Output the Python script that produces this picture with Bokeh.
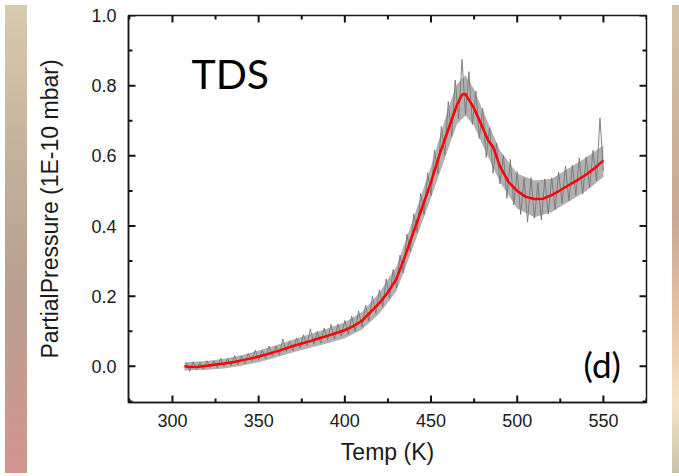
from bokeh.plotting import figure
from bokeh.models import (FixedTicker, NumeralTickFormatter, Label, Range1d, Div, Arrow,
                          ColumnDataSource)
from bokeh.layouts import row
from bokeh.embed import file_html
from bokeh.resources import INLINE

# ---- data ----
noisy_temp = list(range(308, 551, 2))
noisy_val = [
    0.010, -0.014, 0.013, -0.009, 0.011, -0.009, 0.016, -0.003, 0.016, -0.004,
    0.023, 0.000, 0.022, 0.002, 0.031, 0.005, 0.030, 0.007, 0.037, 0.015,
    0.046, 0.018, 0.045, 0.022, 0.058, 0.029, 0.058, 0.032, 0.078, 0.042,
    0.073, 0.044, 0.081, 0.052, 0.090, 0.059, 0.107, 0.063, 0.100, 0.067,
    0.109, 0.075, 0.120, 0.078, 0.121, 0.086, 0.131, 0.092, 0.143, 0.100,
    0.158, 0.112, 0.175, 0.130, 0.200, 0.150, 0.218, 0.170, 0.249, 0.194,
    0.276, 0.224, 0.317, 0.266, 0.377, 0.327, 0.435, 0.381, 0.493, 0.434,
    0.552, 0.487, 0.617, 0.549, 0.684, 0.602, 0.755, 0.655, 0.816, 0.705,
    0.875, 0.716, 0.840, 0.690, 0.785, 0.650, 0.735, 0.595, 0.680, 0.550,
    0.637, 0.520, 0.602, 0.479, 0.590, 0.460, 0.555, 0.433, 0.536, 0.411,
    0.538, 0.422, 0.522, 0.417, 0.534, 0.434, 0.538, 0.446, 0.554, 0.465,
    0.571, 0.472, 0.573, 0.488, 0.594, 0.491, 0.597, 0.509, 0.616, 0.529,
    0.708, 0.557,
]

band_temp = [307, 320, 330, 340, 350, 360, 370, 380, 390, 400, 410, 420, 430,
             440, 450, 460, 465, 470, 475, 480, 490, 500, 510, 520, 530, 540, 550]
band_lo = [-0.012, -0.010, -0.006, 0.002, 0.012, 0.025, 0.040, 0.053, 0.066, 0.080,
           0.105, 0.150, 0.215, 0.345, 0.480, 0.620, 0.690, 0.715, 0.685, 0.630,
           0.525, 0.450, 0.425, 0.440, 0.470, 0.500, 0.540]
band_hi = [0.012, 0.015, 0.022, 0.032, 0.045, 0.060, 0.076, 0.092, 0.108, 0.126,
           0.155, 0.210, 0.285, 0.425, 0.570, 0.735, 0.805, 0.830, 0.790, 0.730,
           0.615, 0.550, 0.530, 0.535, 0.565, 0.595, 0.630]

smooth_temp = [307, 310, 315, 320, 325, 330, 335, 340, 345, 350, 355, 360, 365, 370,
               375, 380, 385, 390, 395, 400, 405, 410, 415, 420, 425, 430, 435, 440,
               445, 450, 455, 460, 465, 468, 470, 475, 480, 483, 486, 490, 495, 500,
               505, 510, 515, 520, 525, 530, 535, 540, 545, 550]
smooth_val = [0.000, -0.002, -0.001, 0.002, 0.005, 0.008, 0.012, 0.017, 0.022, 0.028,
              0.035, 0.042, 0.050, 0.058, 0.065, 0.072, 0.080, 0.087, 0.095, 0.103,
              0.115, 0.130, 0.155, 0.180, 0.211, 0.250, 0.315, 0.385, 0.455, 0.525,
              0.605, 0.675, 0.745, 0.775, 0.776, 0.735, 0.680, 0.645, 0.625, 0.570,
              0.525, 0.500, 0.483, 0.477, 0.478, 0.488, 0.502, 0.517, 0.531, 0.547,
              0.565, 0.587]

x_major = [300, 350, 400, 450, 500, 550]
x_minor = [275, 325, 375, 425, 475, 525, 575]
y_major = [0.0, 0.2, 0.4, 0.6, 0.8, 1.0]
y_minor = [-0.1, 0.1, 0.3, 0.5, 0.7, 0.9]

FONT = "Liberation Sans"
X0, X1 = 274.5, 575.0
Y0, Y1 = -0.103, 1.0
W, H = 635, 468
BL, BR, BT, BB = 96, 21, 15, 66

p = figure(width=W, height=H, output_backend="svg", toolbar_location=None,
           x_range=Range1d(X0, X1), y_range=Range1d(Y0, Y1),
           min_border_left=BL, min_border_right=BR, min_border_top=BT, min_border_bottom=BB,
           x_axis_label="Temp (K)", y_axis_label="PartialPressure (1E-10 mbar)")
p.grid.visible = False
p.background_fill_color = "white"
p.border_fill_color = "white"
p.outline_line_color = "#1a1a1a"
p.outline_line_width = 1.5

p.varea(x=band_temp, y1=band_lo, y2=band_hi, fill_color="#909090", fill_alpha=0.7)
p.line(noisy_temp, noisy_val, line_color="#777777", line_width=1, line_alpha=0.9)
p.line(smooth_temp, smooth_val, line_color="#ff0000", line_width=2.5)

# inward ticks on all four sides (derived from the tick lists and the ranges),
# drawn as head-less Arrow annotations so that they are not clipped
fw, fh = W - BL - BR, H - BT - BB
dx_per_px = (X1 - X0) / fw
dy_per_px = (Y1 - Y0) / fh
tx0, ty0, tx1, ty1 = [], [], [], []
for ticks, ln in ((x_major, 7), (x_minor, 4)):
    for t in ticks:
        tx0 += [t, t]; tx1 += [t, t]
        ty0 += [Y0, Y1]; ty1 += [Y0 + ln * dy_per_px, Y1 - ln * dy_per_px]
for ticks, ln in ((y_major, 7), (y_minor, 4)):
    for t in ticks:
        ty0 += [t, t]; ty1 += [t, t]
        tx0 += [X0, X1]; tx1 += [X0 + ln * dx_per_px, X1 - ln * dx_per_px]
tick_src = ColumnDataSource(dict(x0=tx0, y0=ty0, x1=tx1, y1=ty1))
p.add_layout(Arrow(end=None, x_start="x0", y_start="y0", x_end="x1", y_end="y1",
                   source=tick_src, line_color="#111111", line_width=2))

def style_axis(ax, ticks):
    ax.ticker = FixedTicker(ticks=ticks)
    ax.major_tick_in = 0
    ax.major_tick_out = 0
    ax.minor_tick_in = 0
    ax.minor_tick_out = 0
    ax.axis_line_color = "#1a1a1a"
    ax.axis_line_width = 1.5
    ax.major_label_text_font = FONT
    ax.major_label_text_color = "#1a1a1a"
    ax.major_label_text_font_size = "18px"
    ax.axis_label_text_font = FONT
    ax.axis_label_text_font_size = "23px"
    ax.axis_label_text_font_style = "normal"
    ax.axis_label_text_color = "#1a1a1a"

xa = p.xaxis[0]
style_axis(xa, x_major)
xa.major_label_standoff = 11
xa.axis_label_standoff = 9

ya = p.yaxis[0]
style_axis(ya, y_major)
ya.formatter = NumeralTickFormatter(format="0.0")
ya.major_label_standoff = 12
ya.axis_label_standoff = 25

p.add_layout(Label(x=311, y=0.834, text="TDS", text_font="Lato", text_baseline="alphabetic",
                   text_font_size="41px", text_color="black"))
p.add_layout(Label(x=538.5, y=0.006, text="(d)", text_font="Lato", text_baseline="alphabetic",
                   text_font_size="35px", text_color="black"))

left_strip = Div(width=22, height=H, text="",
                 styles={"background": "linear-gradient(180deg, #d8cbae 0%, #c4b39c 30%, #b9a092 60%, #d2958f 100%)"})
right_strip = Div(width=8, height=H, text="",
                  styles={"background": "linear-gradient(180deg, #d2c4a8 0%, #c8a896 45%, #e6bf9e 65%, #f4e6c6 85%, #c9c0aa 100%)"})

layout = row(left_strip, p, right_strip, spacing=0)
open("out.html", "w").write(file_html(layout, INLINE))
